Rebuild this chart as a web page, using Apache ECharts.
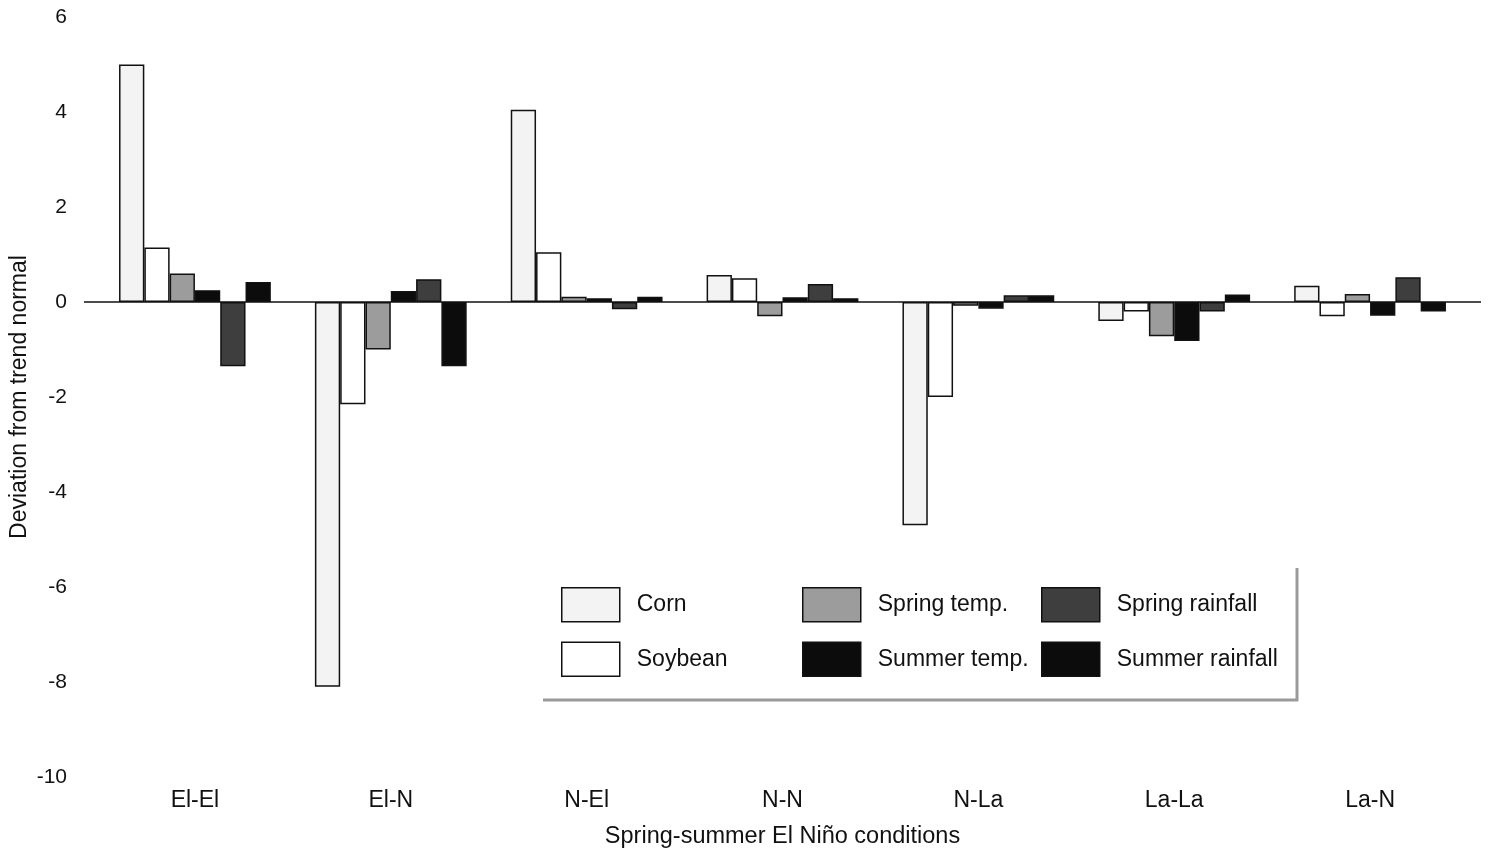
<!DOCTYPE html>
<html>
<head>
<meta charset="utf-8">
<script src="https://cdn.jsdelivr.net/npm/echarts@6/dist/echarts.min.js"></script>
<style>
  html, body { margin: 0; padding: 0; background: #ffffff; }
  #chart { width: 1500px; height: 849px; }
</style>
</head>
<body>
<div id="chart"></div>
<script>
// Spring-summer ENSO phase combinations
const categories = ['El-El', 'El-N', 'N-El', 'N-N', 'N-La', 'La-La', 'La-N'];

// Deviation from trend normal for each variable
const corn           = [5.0, -8.1, 4.05, 0.57, -4.7, -0.4, 0.34];
const soybean        = [1.15, -2.15, 1.05, 0.5, -2.0, -0.2, -0.3];
const springTemp     = [0.6, -1.0, 0.11, -0.3, -0.08, -0.72, 0.17];
const summerTemp     = [0.25, 0.23, 0.08, 0.1, -0.14, -0.82, -0.29];
const springRainfall = [-1.35, 0.48, -0.15, 0.38, 0.14, -0.2, 0.52];
const summerRainfall = [0.42, -1.35, 0.11, 0.08, 0.14, 0.16, -0.2];

// Value axis range
const yMin = -10, yMax = 6, yStep = 2;

const FONT = 'Liberation Sans, Arial, sans-serif';
const INK = '#111111';

const seriesDefs = [
  { name: 'Corn',            data: corn,           color: '#f3f3f3' },
  { name: 'Soybean',         data: soybean,        color: '#ffffff' },
  { name: 'Spring temp.',    data: springTemp,     color: '#9c9c9c' },
  { name: 'Summer temp.',    data: summerTemp,     color: '#0c0c0c' },
  { name: 'Spring rainfall', data: springRainfall, color: '#3e3e3e' },
  { name: 'Summer rainfall', data: summerRainfall, color: '#0c0c0c' }
];

const chart = echarts.init(document.getElementById('chart'), null, { renderer: 'canvas' });

function legendBlock(left, names) {
  return {
    show: true,
    orient: 'vertical',
    left: left,
    top: 587,
    padding: 0,
    icon: 'rect',
    itemWidth: 58,
    itemHeight: 34,
    itemGap: 19,
    selectedMode: false,
    data: names,
    textStyle: { fontFamily: FONT, fontSize: 23, color: INK, padding: [0, 0, 0, 12] },
    itemStyle: { borderColor: '#111', borderWidth: 1.5 }
  };
}

const option = {
  backgroundColor: '#ffffff',
  animation: false,
  grid: { left: 97, right: 32, top: 17, bottom: 72, containLabel: false, outerBoundsMode: 'none' },
  legend: [
    legendBlock(561, ['Corn', 'Soybean']),
    legendBlock(802, ['Spring temp.', 'Summer temp.']),
    legendBlock(1041, ['Spring rainfall', 'Summer rainfall'])
  ],
  xAxis: {
    type: 'category',
    data: categories,
    name: 'Spring-summer El Niño conditions',
    nameLocation: 'middle',
    nameGap: 48,
    nameMoveOverlap: false,
    nameTextStyle: { fontFamily: FONT, fontSize: 23.5, color: INK },
    axisLine: { show: false, onZero: false },
    axisTick: { show: false },
    axisLabel: { fontFamily: FONT, fontSize: 23, color: INK, margin: 12 },
    splitLine: { show: false }
  },
  yAxis: {
    type: 'value',
    min: yMin,
    max: yMax,
    interval: yStep,
    name: 'Deviation from trend normal',
    nameLocation: 'middle',
    nameGap: 66,
    nameMoveOverlap: false,
    nameTextStyle: { fontFamily: FONT, fontSize: 23, color: INK },
    axisLine: { show: false },
    axisTick: { show: false },
    splitLine: { show: false },
    axisLabel: { fontFamily: FONT, fontSize: 21, color: INK, margin: 30 }
  },
  series: seriesDefs.map(s => ({
    name: s.name,
    type: 'bar',
    data: s.data,
    barGap: '0%',
    barCategoryGap: '22.5%',
    itemStyle: { color: s.color, borderColor: '#111', borderWidth: 1.5 }
  }))
};

chart.setOption(option);

// Zero baseline running across the full plot, plus the legend's shadow frame
const zeroY = chart.convertToPixel({ yAxisIndex: 0 }, 0);
chart.setOption({
  graphic: [
    {
      type: 'line', z: 10,
      shape: { x1: 84, y1: zeroY, x2: 1481, y2: zeroY },
      style: { stroke: '#111', lineWidth: 1.6 }
    },
    {
      type: 'line', z: 1,
      shape: { x1: 1297, y1: 568, x2: 1297, y2: 701 },
      style: { stroke: '#9a9a9a', lineWidth: 3 }
    },
    {
      type: 'line', z: 1,
      shape: { x1: 543, y1: 700, x2: 1298, y2: 700 },
      style: { stroke: '#9a9a9a', lineWidth: 3 }
    }
  ]
});
</script>
</body>
</html>
